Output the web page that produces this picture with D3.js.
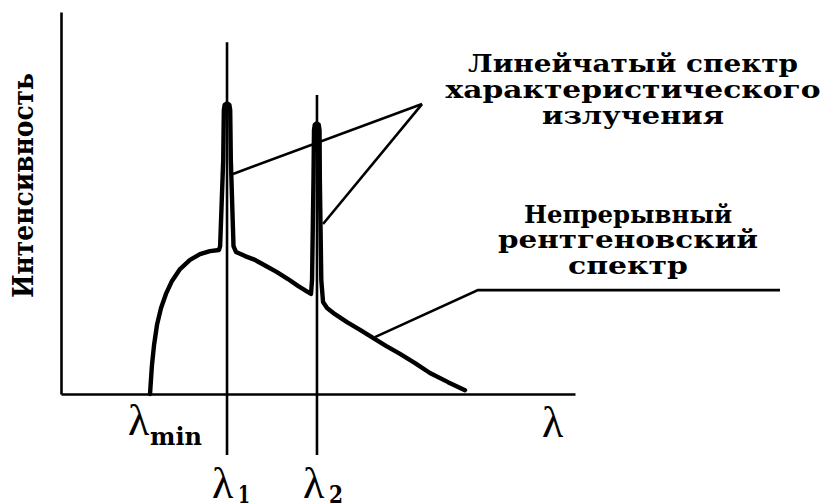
<!DOCTYPE html>
<html>
<head>
<meta charset="utf-8">
<script src="https://cdn.jsdelivr.net/npm/d3@7/dist/d3.min.js"></script>
<style>
  html, body { margin: 0; padding: 0; background: #fff; }
  svg { display: block; }
</style>
</head>
<body>
<script>
// X-ray tube emission spectrum (schematic): continuous bremsstrahlung
// plus two characteristic lines λ1 and λ2.

// wavelength (arb. units), intensity (arb. units)
const continuumA = [
  [8.66, 0], [8.75, 3.7], [8.85, 7.6], [9.05, 12.8], [9.34, 18.1], [9.73, 22.5],
  [10.21, 26.2], [10.80, 29.6], [11.58, 32.7], [12.55, 35.1], [13.52, 36.6],
  [14.49, 37.4], [15.37, 37.7]
];
const peak1 = [
  [15.48, 38.7], [15.78, 61.3], [15.84, 74.3], [15.92, 75.7], [16.15, 76.1],
  [16.38, 75.7], [16.46, 74.3], [16.52, 61.3], [16.78, 38.7], [17.02, 37.2]
];
const continuumB = [
  [17.90, 36.1], [18.87, 35.1], [19.94, 33.5], [21.01, 31.9], [22.08, 30.1],
  [23.05, 28.3], [23.83, 27.0], [24.32, 26.2]
];
const peak2 = [
  [24.42, 29.8], [24.56, 56.0], [24.61, 69.1], [24.69, 70.5], [24.88, 70.9],
  [25.07, 70.5], [25.15, 69.1], [25.18, 56.0], [25.32, 29.8], [25.49, 24.1], [25.88, 22.5]
];
const continuumC = [
  [26.65, 20.9], [27.82, 18.8], [29.09, 16.8], [30.35, 14.7], [31.61, 12.6],
  [32.98, 10.5], [34.44, 8.1], [35.89, 5.5], [37.65, 3.1], [39.30, 1.0]
];

// characteristic line positions and the extent of their marker lines
const lineWavelengths = [16.15, 24.90];
const lineTops = [92.1, 78.3];
const lineBottom = -16.0;
const lambdaMin = 8.66;

// callout leaders (wavelength, intensity)
const leaderLines = [
  [[16.73, 57.6], [35.12, 75.9]],
  [[25.49, 44.5], [35.12, 75.9]]
];
const leaderContinuum = [[30.54, 14.9], [40.56, 27.2], [69.94, 27.2]];

// text
const yTitle = "Интенсивность";
const lineLabel = ["Линейчатый спектр", "характеристического", "излучения"];
const contLabel = ["Непрерывный", "рентгеновский", "спектр"];
const lambdaSub = ["1", "2"];

const W = 828, H = 504;
const svg = d3.select("body").append("svg").attr("width", W).attr("height", H);

const x = d3.scaleLinear().domain([0, 50]).range([61, 575]);
const y = d3.scaleLinear().domain([0, 100]).range([394, 12]);

const slab = "'DejaVu Serif', 'Liberation Serif', serif";
const serif = "'Liberation Serif', 'Times New Roman', serif";

// axes: plain lines, no ticks
const gx = svg.append("g").attr("transform", `translate(0,${y(0)})`)
  .call(d3.axisBottom(x).tickValues([]).tickSizeOuter(0));
const gy = svg.append("g").attr("transform", `translate(${x(0)},0)`)
  .call(d3.axisLeft(y).tickValues([]).tickSizeOuter(0));
[gx, gy].forEach(g => g.select(".domain").attr("stroke", "#000").attr("stroke-width", 2.6));

// vertical markers at λ1, λ2
svg.append("g").selectAll("line").data(lineWavelengths).join("line")
  .attr("x1", d => x(d)).attr("x2", d => x(d))
  .attr("y1", (d, i) => y(lineTops[i])).attr("y2", y(lineBottom))
  .attr("stroke", "#000").attr("stroke-width", 2.6);

// spectrum curve
const spectrum = continuumA.concat(peak1, continuumB, peak2, continuumC);
const line = d3.line().x(d => x(d[0])).y(d => y(d[1])).curve(d3.curveLinear);
svg.append("path").datum(spectrum).attr("d", line)
  .attr("fill", "none").attr("stroke", "#000").attr("stroke-width", 4.4)
  .attr("stroke-linejoin", "round").attr("stroke-linecap", "round");

// leaders
svg.append("g").selectAll("path").data(leaderLines.concat([leaderContinuum])).join("path")
  .attr("d", line).attr("fill", "none").attr("stroke", "#000")
  .attr("stroke-width", 2.6).attr("stroke-linejoin", "miter");

// y title
svg.append("text")
  .attr("transform", "translate(33,185.5) rotate(-90)")
  .attr("text-anchor", "middle")
  .attr("font-family", slab).attr("font-weight", "bold").attr("font-size", 27)
  .attr("textLength", 225).attr("lengthAdjust", "spacingAndGlyphs")
  .text(yTitle);

// block labels
function block(lines, cx, baselines, lengths) {
  svg.append("g").selectAll("text").data(lines).join("text")
    .attr("x", cx).attr("y", (d, i) => baselines[i])
    .attr("text-anchor", "middle")
    .attr("font-family", slab).attr("font-weight", "bold").attr("font-size", 24)
    .attr("textLength", (d, i) => lengths[i]).attr("lengthAdjust", "spacingAndGlyphs")
    .text(d => d);
}
block(lineLabel, 633, [72, 98, 124], [330, 375, 182]);
block(contLabel, 628, [223, 248, 274], [208, 260, 120]);

// λ labels
function lambda(px, base, sub, subBase, subLen) {
  svg.append("text").attr("x", px).attr("y", base)
    .attr("font-family", serif).attr("font-size", 44).text("λ");
  if (sub) {
    svg.append("text").attr("x", px + (sub === "min" ? 22 : 26)).attr("y", subBase)
      .attr("font-family", slab).attr("font-weight", "bold").attr("font-size", 24)
      .attr("textLength", subLen).attr("lengthAdjust", "spacingAndGlyphs")
      .text(sub);
  }
}
lambda(x(lambdaMin) - 22, 435, "min", 445, 52);
lambda(x(lineWavelengths[0]) - 15, 498, lambdaSub[0], 503, 12);
lambda(x(lineWavelengths[1]) - 14, 498, lambdaSub[1], 503, 14);
lambda(542, 437, null);
</script>
</body>
</html>
